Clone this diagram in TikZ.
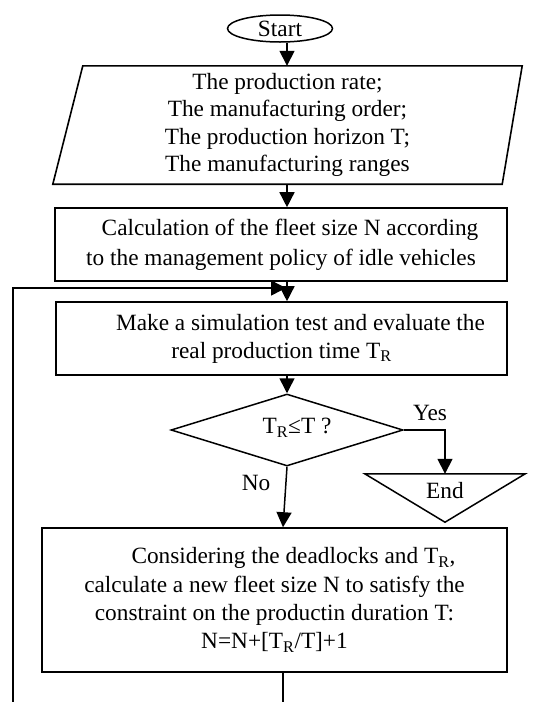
\documentclass[tikz,border=0pt]{standalone}
\usepackage{fontspec}
\setmainfont{Liberation Serif}
\usetikzlibrary{shapes.geometric,arrows.meta,calc}
\tikzset{
  txt/.style={font=\fontsize{23.3}{27.5}\selectfont, align=center, inner sep=0pt},
  box/.style={draw, line width=1.6pt, txt, inner sep=0pt},
  conn/.style={line width=1.5pt},
  arr/.style={conn, -{Triangle[length=15pt,width=15pt]}}
}
\begin{document}
\begin{tikzpicture}[x=1pt,y=-1pt]
\useasboundingbox (0,0) rectangle (535,702);
\clip (0,0) rectangle (535,702);
\coordinate (spine) at (287,0);

\node[draw, ellipse, line width=1.5pt, minimum width=105pt, minimum height=27pt, inner sep=0pt, font=\fontsize{23.3}{27.5}\selectfont] (start) at (280,28.5) {Start};

\node[txt, minimum width=469pt, minimum height=118pt] (input) at (287.5,125) {The production rate;\\The manufacturing order;\\The production horizon T;\\The manufacturing ranges};
\draw[line width=1.6pt] ($(input.north west)+(30,0)$) -- (input.north east) -- ($(input.south east)+(-20,0)$) -- (input.south west) -- cycle;

\node[box, minimum width=452pt, minimum height=73pt, font=\fontsize{23.3}{30}\selectfont] (calc) at (281,244.5) {\hspace*{18pt}Calculation of the fleet size N according\\to the management policy of idle vehicles};

\node[box, minimum width=451pt, minimum height=73pt, font=\fontsize{23.3}{28}\selectfont] (sim) at (281.5,338.5) {\hspace*{38pt}Make a simulation test and evaluate the\\real production time T\textsubscript{R}};

\node[draw, diamond, line width=1.5pt, minimum width=232pt, minimum height=72pt, inner sep=0pt] (test) at (287,430) {};
\node[txt] (testtxt) at (297,428) {T\textsubscript{R}≤T ?};

\node[txt] (yes) at (430,413) {Yes};
\node[txt] (no) at (256,483) {No};

\node[minimum width=160pt, minimum height=48pt, inner sep=0pt] (end) at (445,498) {};
\draw[line width=1.5pt] (end.north west) -- (end.north east) -- (end.south) -- cycle;
\node[txt] (endtxt) at (445,491) {End};

\node[box, minimum width=465pt, minimum height=144pt, font=\fontsize{23.3}{28.3}\selectfont] (upd) at (274.5,600) {\hspace*{38pt}Considering the deadlocks and T\textsubscript{R},\\calculate a new fleet size N to satisfy the\\constraint on the productin duration T:\\N=N+[T\textsubscript{R}/T]+1};

\draw[arr] (start.south -| spine) -- (input.north -| spine);
\draw[arr] (input.south -| spine) -- (calc.north -| spine);
\draw[arr] (calc.south -| spine) -- (sim.north -| spine);
\draw[arr] (sim.south -| spine) -- (test.north);
\draw[arr] (test.east) -| (end.north);
\draw[arr] (test.south) -- ($(upd.north)+(8.5,0)$);
\draw[arr] ($(upd.south)+(8.5,0)$) -- ++(0,40) -| (13,288) -- (286,288);
\end{tikzpicture}
\end{document}
